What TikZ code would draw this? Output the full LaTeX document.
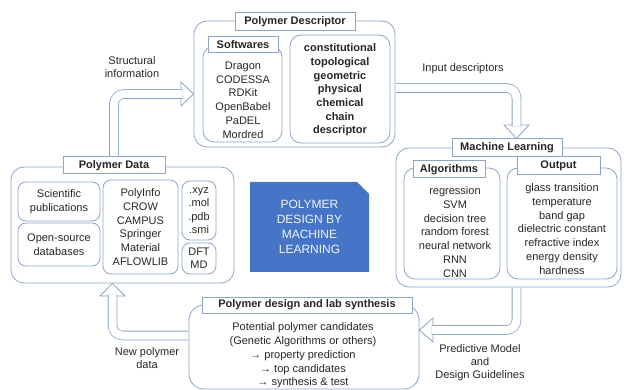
\documentclass[tikz,border=0pt]{standalone}
\usepackage{fontspec}
\setmainfont{Liberation Sans}
\usetikzlibrary{calc,shapes.misc}
\definecolor{frame}{RGB}{140,164,198}
\definecolor{ink}{RGB}{38,38,38}
\definecolor{bluebox}{RGB}{70,116,198}

\begin{document}
\begin{tikzpicture}[x=1pt,y=-1pt,
  box/.style={draw=frame,line width=0.8pt,rounded corners=13pt,inner sep=0},
  inner/.style={draw=frame,line width=0.8pt,rounded corners=11pt,inner sep=0},
  cell/.style={inner,rounded corners=8pt,align=center,text=ink,font=\fontsize{11}{13.8}\selectfont},
  title/.style={draw=frame,line width=1pt,fill=white,inner sep=0,text=ink,font=\fontsize{11}{13}\selectfont\bfseries},
  txt/.style={align=center,inner sep=0,text=ink,font=\fontsize{11}{13.8}\selectfont},
  shaft/.style={draw=frame,line width=0.8pt,double=white,double distance=8pt,rounded corners=10pt,shorten >=-1.5pt,shorten <=0.6pt},
  head/.style={draw=frame,line width=0.8pt,fill=white,line join=miter}]
\useasboundingbox (0,0) rectangle (624,390);

%polymer descriptor
\node[box,minimum width=201pt,minimum height=126pt] (desc) at (294.5,84) {};
\node[inner,minimum width=79pt,minimum height=96pt] (sw) at (242.5,94) {};
\node[inner,minimum width=100pt,minimum height=108pt] (dl) at (340,89) {};
\node[title,minimum width=120pt,minimum height=18pt] (desct) at (295,22) {Polymer Descriptor};
\node[title,minimum width=70pt,minimum height=16pt] (swt) at (243,45) {Softwares};
\node[txt] (swlist) at (243,100) {Dragon\\CODESSA\\RDKit\\OpenBabel\\PaDEL\\Mordred};
\node[txt,font=\fontsize{11}{13.7}\selectfont\bfseries] (dlist) at (340,90) {constitutional\\topological\\geometric\\physical\\chemical\\chain\\descriptor};

%machine learning
\node[box,minimum width=225pt,minimum height=139pt] (ml) at (508.5,217.5) {};
\node[inner,minimum width=96pt,minimum height=111pt] (alg) at (452,223.5) {};
\node[inner,minimum width=110pt,minimum height=111pt] (out) at (562,223.5) {};
\node[title,minimum width=110pt,minimum height=18pt] (mlt) at (507,148) {Machine Learning};
\node[title,minimum width=72pt,minimum height=17pt] (algt) at (449,169.5) {Algorithms};
\node[title,minimum width=83pt,minimum height=18pt] (outt) at (558.5,166) {Output};
\node[txt] (alglist) at (455,232) {regression\\SVM\\decision tree\\random forest\\neural network\\RNN\\CNN};
\node[txt,font=\fontsize{11}{13.7}\selectfont] (outlist) at (562,229) {glass transition\\temperature\\band gap\\dielectric constant\\refractive index\\energy density\\hardness};

%polymer data
\node[box,minimum width=223pt,minimum height=116pt] (pd) at (122.5,225) {};
\node[cell,minimum width=82pt,minimum height=39pt] (sci) at (59,201.5) {Scientific\\publications};
\node[cell,minimum width=82pt,minimum height=43pt] (osd) at (59,244.5) {Open-source\\databases};
\node[cell,minimum width=75pt,minimum height=94pt] (mid) at (140.5,227) {PolyInfo\\CROW\\CAMPUS\\Springer\\Material\\AFLOWLIB};
\node[cell,minimum width=34pt,minimum height=59pt,font=\fontsize{11}{13.4}\selectfont] (fmt) at (199,210.5) {.xyz\\.mol\\.pdb\\.smi};
\node[cell,minimum width=34pt,minimum height=31pt,font=\fontsize{11}{13}\selectfont] (sim) at (199,258.5) {DFT\\MD};
\node[title,minimum width=102pt,minimum height=17pt] (pdt) at (114,165.5) {Polymer Data};

%centre label
\node[chamfered rectangle,chamfered rectangle corners=north east,chamfered rectangle xsep=6pt,chamfered rectangle ysep=6pt,
  fill=bluebox,minimum width=119pt,minimum height=90pt,inner sep=0,text=white!92!bluebox,align=center,
  font=\fontsize{12}{15}\selectfont] (core) at (309.5,227) {POLYMER\\DESIGN BY\\MACHINE\\LEARNING};

%polymer design and lab synthesis
\node[box,minimum width=230pt,minimum height=84pt,rounded corners=15pt] (des) at (304,347) {};
\node[title,minimum width=210pt,minimum height=16pt] (dest) at (307,305) {Polymer design and lab synthesis};
\node[txt] (destext) at (303,355.5) {Potential polymer candidates\\(Genetic Algorithms or others)\\→ property prediction\\→ top candidates\\→ synthesis \& test};

%arrow labels
\node[txt] (lstruct) at (132,67) {Structural\\information};
\node[txt] (linput) at (463,69) {Input descriptors};
\node[txt,font=\fontsize{11}{13}\selectfont] (lpred) at (480,363) {Predictive Model\\and\\Design Guidelines};
\node[txt,font=\fontsize{11}{13}\selectfont] (lnew) at (147,358.5) {New polymer\\data};

%structural information
\coordinate (s1) at (181,94); % head base
\draw[head] ($(s1)+(0,-12)$) -- (desc.west |- s1) -- ($(s1)+(0,12)$) -- cycle;
\draw[shaft] (pdt.north) |- (s1);

%input descriptors
\coordinate (i1) at (516.5,125); % head base
\draw[head] ($(i1)+(-12.5,0)$) -- (i1 |- mlt.north) -- ($(i1)+(12.5,0)$) -- cycle;
\draw[shaft] ([yshift=-4pt]desc.east) -| (i1);

%predictive model
\coordinate (p1) at (433,330); % head base
\draw[head] ($(p1)+(0,-12)$) -- (des.east |- p1) -- ($(p1)+(0,12)$) -- cycle;
\draw[shaft] (ml.south -| i1) |- (p1);

%new polymer data
\coordinate (n1) at (112.5,296); % head base
\draw[head] ($(n1)+(-12.5,0)$) -- (n1 |- pd.south) -- ($(n1)+(12.5,0)$) -- cycle;
\draw[shaft] ([yshift=11.5pt]des.west) -| (n1);
\end{tikzpicture}
\end{document}
